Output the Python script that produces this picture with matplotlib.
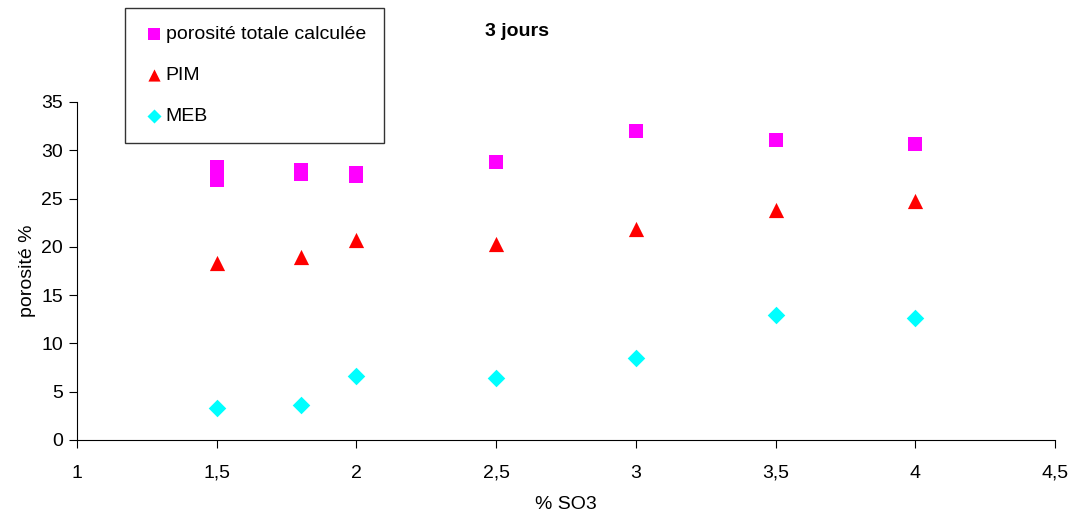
import matplotlib.pyplot as plt
from matplotlib.ticker import FixedLocator
from matplotlib import font_manager

names = {f.name for f in font_manager.fontManager.ttflist}
print('Narrow available:', 'Liberation Sans Narrow' in names)
plt.rcParams['font.family'] = ['Liberation Sans Narrow', 'Liberation Sans', 'DejaVu Sans']

# % SO3 and porosity values
x_total = [1.5, 1.5, 1.8, 1.8, 2.0, 2.0, 2.5, 3.0, 3.5, 4.0]
y_total = [28.3, 26.9, 28.0, 27.5, 27.6, 27.3, 28.8, 32.0, 31.1, 30.6]

x_pim = [1.5, 1.8, 2.0, 2.5, 3.0, 3.5, 4.0]
y_pim = [18.3, 18.9, 20.7, 20.3, 21.8, 23.8, 24.7]

x_meb = [1.5, 1.8, 2.0, 2.5, 3.0, 3.5, 4.0]
y_meb = [3.3, 3.6, 6.6, 6.4, 8.5, 12.9, 12.6]

x_ticks = [1, 1.5, 2, 2.5, 3, 3.5, 4, 4.5]
x_labels = ['1', '1,5', '2', '2,5', '3', '3,5', '4', '4,5']
y_ticks = [0, 5, 10, 15, 20, 25, 30, 35]

fig = plt.figure(figsize=(10.72, 5.2), dpi=100)
ax = fig.add_axes([77 / 1072, 80 / 520, 978 / 1072, 338 / 520])

ax.scatter(x_total, y_total, marker='s', s=110, color='#ff00ff', linewidths=0,
           label='porosité totale calculée')
ax.scatter(x_pim, y_pim, marker='^', s=120, color='#ff0000', linewidths=0, label='PIM')
ax.scatter(x_meb, y_meb, marker='D', s=80, color='#00ffff', linewidths=0, label='MEB')

ax.set_xlim(1, 4.5)
ax.set_ylim(0, 35)
ax.xaxis.set_major_locator(FixedLocator(x_ticks))
ax.set_xticklabels(x_labels)
ax.set_yticks(y_ticks)
ax.spines['top'].set_visible(False)
ax.spines['right'].set_visible(False)
ax.tick_params(axis='x', direction='out', length=6, pad=12, labelsize=14)
ax.tick_params(axis='y', direction='out', length=6, pad=4, labelsize=14)
ax.set_xlabel('% SO3', fontsize=14, labelpad=10)
ax.set_ylabel('porosité %', fontsize=14, labelpad=4)

fig.text(517 / 1072, 1 - 32 / 520, '3 jours', fontsize=14, fontweight='bold',
         ha='center', va='center')

leg = fig.legend(loc='upper left', bbox_to_anchor=(125 / 1072, 1 - 8 / 520),
                 fontsize=14, frameon=True, fancybox=False, labelspacing=1.2,
                 handletextpad=0.0, handlelength=1.2, borderpad=0.9,
                 borderaxespad=0, markerscale=0.8)
leg.get_frame().set_edgecolor('black')
leg.get_frame().set_linewidth(1.0)

fig.savefig('out.png', dpi=100)
